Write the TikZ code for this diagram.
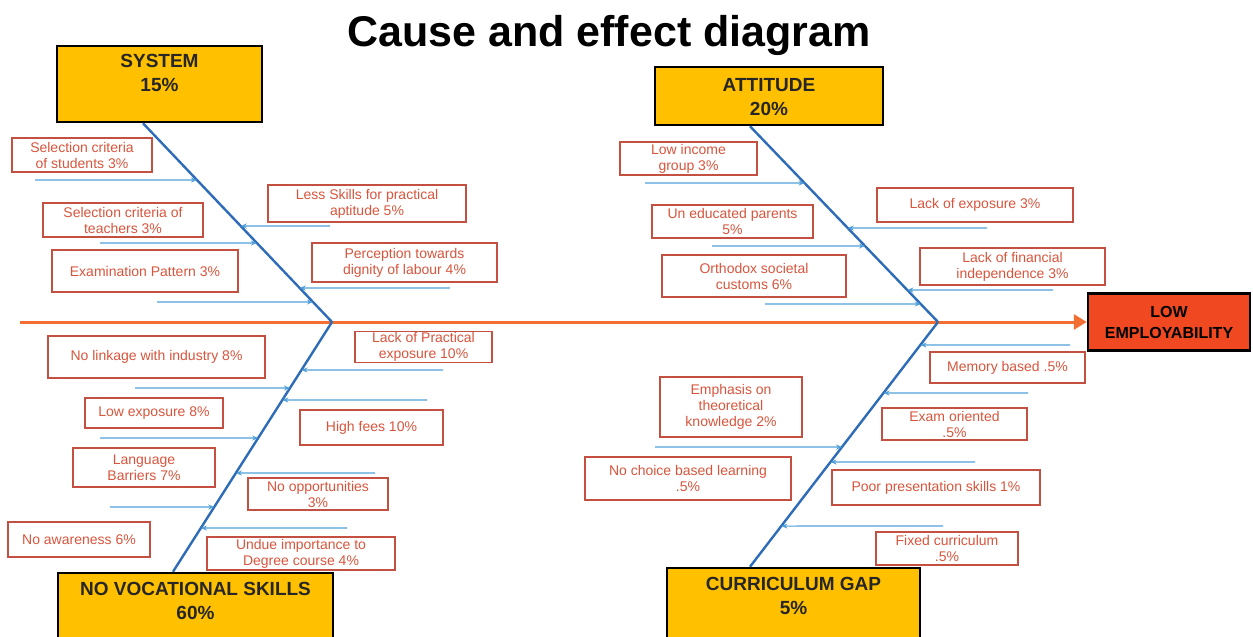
\documentclass[tikz,border=0pt]{standalone}
\usepackage{fontspec}
\setmainfont{Liberation Sans}
\usetikzlibrary{positioning,arrows.meta}
\definecolor{gold}{RGB}{255,192,0}
\definecolor{effectred}{RGB}{240,72,32}
\definecolor{spineorange}{RGB}{242,110,50}
\definecolor{boneblue}{RGB}{46,108,184}
\definecolor{twigblue}{RGB}{80,160,215}
\definecolor{causered}{RGB}{195,80,65}
\definecolor{causetext}{RGB}{215,85,60}

\begin{document}
\begin{tikzpicture}[x=1pt, y=-1pt,
    catbox/.style={draw=black, line width=2.5pt, fill=gold, inner sep=0pt},
    cattext/.style={font=\fontsize{19}{24}\selectfont\bfseries, align=center, inner sep=0pt, text=black!85},
    cause/.style={draw=causered, line width=1.4pt, text=causetext, align=center, inner sep=1pt, font=\fontsize{14}{16}\selectfont},
    bone/.style={draw=boneblue, line width=2.4pt},
    twig/.style={draw=twigblue, line width=1.1pt, -{Stealth[length=6pt, width=5pt]}},
    spine/.style={draw=spineorange, line width=3pt, -{Triangle[length=13pt, width=15pt]}}]
    \useasboundingbox (0,0) rectangle (1253,637);

    \node[font=\fontsize{43}{50}\selectfont\bfseries, anchor=base] (title) at (609,46) {Cause and effect diagram};

    % head and spine
    \node[draw=black, line width=2.5pt, fill=effectred, minimum width=162, minimum height=57,
          font=\fontsize{16}{21}\selectfont\bfseries, align=center] (effect) at (1169,322) {LOW\\EMPLOYABILITY};
    \coordinate (tail) at (20,322);
    \coordinate (j1) at (332,322);
    \coordinate (j2) at (938,322);
    \draw[spine] (tail) -- (effect.west);

    % categories
    \node[catbox, minimum width=205, minimum height=76] (sys) at (159.5,84) {};
    \node[cattext, below=9pt of sys.north] (sys-t) {SYSTEM\\15\%};
    \node[catbox, minimum width=228, minimum height=58] (att) at (769,96) {};
    \node[cattext, below=12pt of att.north] (att-t) {ATTITUDE\\20\%};
    \node[catbox, minimum width=275, minimum height=77] (nv) at (195.5,611.5) {};
    \node[cattext, below=10pt of nv.north] (nv-t) {NO VOCATIONAL SKILLS\\60\%};
    \node[catbox, minimum width=253, minimum height=82] (cg) at (793.5,609) {};
    \node[cattext, below=10pt of cg.north] (cg-t) {CURRICULUM GAP\\5\%};

    \coordinate (sb) at ([xshift=-16.5pt]sys.south);
    \coordinate (ab) at ([xshift=-19pt]att.south);
    \coordinate (nb) at ([xshift=-22.5pt]nv.north);
    \coordinate (cb) at ([xshift=-43.5pt]cg.north);
    \draw[bone] (sb) -- (j1);
    \draw[bone] (ab) -- (j2);
    \draw[bone] (nb) -- (j1);
    \draw[bone] (cb) -- (j2);

    % small arrows into the bones
    \foreach \ty/\tx in {180/35, 243/100, 302/157, 226/330, 288/450}
        \draw[twig] (\tx,\ty) -- (intersection of sb--j1 and 0,\ty--1,\ty);
    \foreach \ty/\tx in {183/645, 246/712, 304/765, 228/987, 290/1053}
        \draw[twig] (\tx,\ty) -- (intersection of ab--j2 and 0,\ty--1,\ty);
    \foreach \ty/\tx in {388/135, 438/100, 507/110, 370/443, 400/427, 473/375, 528/347}
        \draw[twig] (\tx,\ty) -- (intersection of nb--j1 and 0,\ty--1,\ty);
    \foreach \ty/\tx in {447/655, 345/1070, 393/1028, 462/975, 526/943}
        \draw[twig] (\tx,\ty) -- (intersection of cb--j2 and 0,\ty--1,\ty);

    % causes: system
    \node[cause, minimum width=140, minimum height=34] (s1) at (82,155) {Selection criteria\\of students 3\%};
    \node[cause, minimum width=160, minimum height=34] (s2) at (123,220) {Selection criteria of\\teachers 3\%};
    \node[cause, minimum width=186, minimum height=42] (s3) at (145,271) {Examination Pattern 3\%};
    \node[cause, minimum width=198, minimum height=37] (s4) at (367,203.5) {Less Skills for practical\\aptitude 5\%};
    \node[cause, minimum width=185, minimum height=39] (s5) at (404.5,262.5) {Perception towards\\dignity of labour 4\%};

    % causes: attitude
    \node[cause, minimum width=137, minimum height=33] (a1) at (688.5,158.5) {Low income\\group 3\%};
    \node[cause, minimum width=161, minimum height=33] (a2) at (732.5,221.5) {Un educated parents\\5\%};
    \node[cause, minimum width=184, minimum height=42] (a3) at (754,276) {Orthodox societal\\customs 6\%};
    \node[cause, minimum width=196, minimum height=34] (a4) at (975,205) {Lack of exposure 3\%};
    \node[cause, minimum width=185, minimum height=37] (a5) at (1012.5,266.5) {Lack of financial\\independence 3\%};

    % causes: no vocational skills
    \node[cause, minimum width=217, minimum height=42] (n1) at (156.5,357) {No linkage with industry 8\%};
    \node[cause, minimum width=138, minimum height=30] (n2) at (154,413) {Low exposure 8\%};
    \node[cause, minimum width=142, minimum height=39] (n3) at (144,467.5) {Language\\Barriers 7\%};
    \node[cause, minimum width=142, minimum height=35] (n4) at (79,539.5) {No awareness 6\%};
    \node[cause, minimum width=137, minimum height=30] (n5) at (423.5,347) {Lack of Practical\\exposure 10\%};
    \node[cause, minimum width=143, minimum height=35] (n6) at (371.5,427.5) {High fees 10\%};
    \node[cause, minimum width=140, minimum height=32] (n7) at (318,494) {No opportunities\\3\%};
    \node[cause, minimum width=188, minimum height=33] (n8) at (301,553.5) {Undue importance to\\Degree course 4\%};

    % causes: curriculum gap
    \node[cause, minimum width=142, minimum height=60] (c1) at (731,407) {Emphasis on\\theoretical\\knowledge 2\%};
    \node[cause, minimum width=206, minimum height=43] (c2) at (688,478.5) {No choice based learning\\.5\%};
    \node[cause, minimum width=155, minimum height=31] (c3) at (1007.5,367.5) {Memory based .5\%};
    \node[cause, minimum width=145, minimum height=32] (c4) at (954.5,424) {Exam oriented\\.5\%};
    \node[cause, minimum width=208, minimum height=35] (c5) at (936,487.5) {Poor presentation skills 1\%};
    \node[cause, minimum width=142, minimum height=33] (c6) at (947,548.5) {Fixed curriculum\\.5\%};
\end{tikzpicture}
\end{document}
